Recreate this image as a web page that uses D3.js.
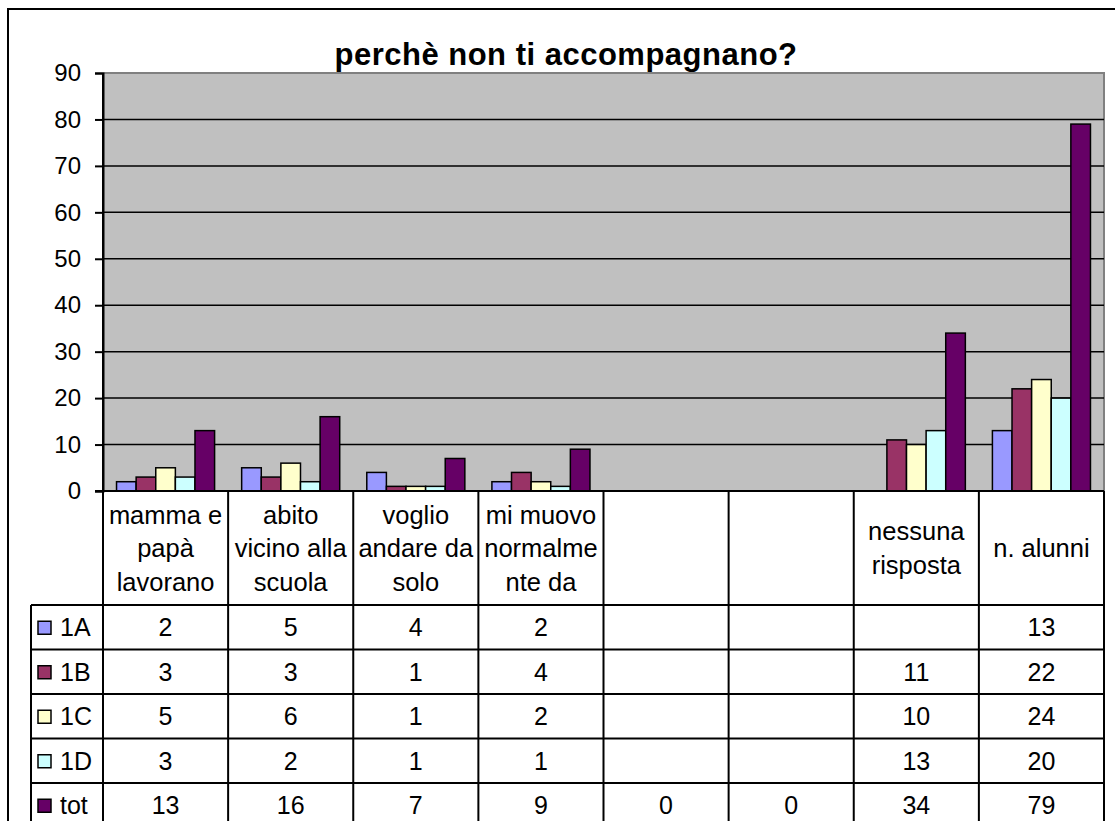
<!DOCTYPE html>
<html>
<head>
<meta charset="utf-8">
<script src="https://cdn.jsdelivr.net/npm/d3@7"></script>
<style>
body { margin: 0; background: #fff; }
text { font-family: 'Liberation Sans', Arial, sans-serif; fill: #000; }
</style>
</head>
<body>
<div id="chart"></div>
<script>
const title = 'perchè non ti accompagnano?'
const categories = [
	['mamma e', 'papà', 'lavorano'],
	['abito', 'vicino alla', 'scuola'],
	['voglio', 'andare da', 'solo'],
	['mi muovo', 'normalme', 'nte da'],
	[],
	[],
	['nessuna', 'risposta'],
	['n. alunni']
]
const seriesNames = ['1A', '1B', '1C', '1D', 'tot']
const colors = ['#9999ff', '#993366', '#ffffcc', '#ccffff', '#660066']
const v1A = [2, 5, 4, 2, null, null, null, 13]
const v1B = [3, 3, 1, 4, null, null, 11, 22]
const v1C = [5, 6, 1, 2, null, null, 10, 24]
const v1D = [3, 2, 1, 1, null, null, 13, 20]
const vTot = [13, 16, 7, 9, 0, 0, 34, 79]
const yTicks = [0, 10, 20, 30, 40, 50, 60, 70, 80, 90]

const series = [v1A, v1B, v1C, v1D, vTot]

const W = 1115, H = 821
const plot = { left: 103, right: 1104, top: 73, bottom: 491 }
const tableTop = 605, rowH = 44.5, legendLeft = 31

const svg = d3.select('#chart')
	.append('svg')
	.attr('width', W)
	.attr('height', H)

// outer frame (runs off the right and bottom edges)
svg.append('rect')
	.attr('x', 8).attr('y', 9)
	.attr('width', W + 20).attr('height', H + 20)
	.attr('fill', 'white')
	.attr('stroke', 'black')
	.attr('stroke-width', 2)

const idx = d3.range(categories.length)

const x = d3.scaleBand()
	.domain(idx)
	.range([plot.left, plot.right])

const x1 = d3.scaleBand()
	.domain(seriesNames)
	.range([0, x.bandwidth()])
	.paddingOuter(0.69)

const y = d3.scaleLinear()
	.domain([0, 90])
	.range([plot.bottom, plot.top])

// plot background
svg.append('rect')
	.attr('x', plot.left).attr('y', plot.top)
	.attr('width', plot.right - plot.left)
	.attr('height', plot.bottom - plot.top)
	.attr('fill', '#c0c0c0')

svg.append('path')
	.attr('d', `M${plot.left},${plot.top}H${plot.right}V${plot.bottom}`)
	.attr('fill', 'none')
	.attr('stroke', '#808080')
	.attr('stroke-width', 2)

// gridlines
svg.append('g')
	.selectAll('line')
	.data(yTicks.filter(d => d > 0 && d < 90))
	.join('line')
	.attr('x1', plot.left).attr('x2', plot.right)
	.attr('y1', d => y(d)).attr('y2', d => y(d))
	.attr('stroke', 'black')
	.attr('stroke-width', 1.5)

// y axis
const yAxis = d3.axisLeft(y)
	.tickValues(yTicks)
	.tickSize(8)
	.tickPadding(14)

svg.append('g')
	.attr('transform', `translate(${plot.left},0)`)
	.call(yAxis)
	.call(g => g.select('.domain').attr('stroke-width', 2))
	.call(g => g.selectAll('.tick line').attr('stroke-width', 2))
	.call(g => g.selectAll('.tick text')
		.attr('font-size', 24)
		.attr('font-family', "'Liberation Sans', Arial, sans-serif"))

// bars
const barData = []
series.forEach((vals, s) => vals.forEach((v, i) => {
	if (v != null && v > 0) barData.push({ s, i, v })
}))

svg.append('g')
	.selectAll('rect')
	.data(barData)
	.join('rect')
	.attr('x', d => x(d.i) + x1(seriesNames[d.s]))
	.attr('width', x1.bandwidth())
	.attr('y', d => y(d.v))
	.attr('height', d => y(0) - y(d.v))
	.attr('fill', d => colors[d.s])
	.attr('stroke', 'black')
	.attr('stroke-width', 1.5)

// data table
const tableBottom = tableTop + rowH * series.length
const grid = svg.append('g')
	.attr('stroke', 'black')
	.attr('stroke-width', 2)

grid.append('line')
	.attr('x1', plot.left - 8).attr('x2', plot.right)
	.attr('y1', plot.bottom).attr('y2', plot.bottom)

grid.selectAll('.vline')
	.data(idx.concat([categories.length]))
	.join('line')
	.attr('class', 'vline')
	.attr('x1', d => d < categories.length ? x(d) : plot.right)
	.attr('x2', d => d < categories.length ? x(d) : plot.right)
	.attr('y1', d => d === 0 ? plot.top : plot.bottom)
	.attr('y2', tableBottom + 10)

grid.append('line')
	.attr('x1', legendLeft).attr('x2', legendLeft)
	.attr('y1', tableTop).attr('y2', tableBottom + 10)

grid.selectAll('.hline')
	.data(d3.range(series.length))
	.join('line')
	.attr('class', 'hline')
	.attr('x1', legendLeft).attr('x2', plot.right)
	.attr('y1', d => tableTop + d * rowH)
	.attr('y2', d => tableTop + d * rowH)

// category labels
const catMid = (plot.bottom + tableTop) / 2
svg.append('g')
	.selectAll('text')
	.data(idx)
	.join('text')
	.attr('font-size', 25.5)
	.attr('text-anchor', 'middle')
	.each(function(i) {
		const lines = categories[i]
		d3.select(this).selectAll('tspan')
			.data(lines)
			.join('tspan')
			.attr('x', x(i) + x.bandwidth() / 2)
			.attr('y', (d, k) => catMid + (k - (lines.length - 1) / 2) * 33.5 + 9)
			.text(d => d)
	})

// legend keys + values
const rows = svg.append('g')
	.selectAll('g')
	.data(series)
	.join('g')
	.attr('transform', (d, s) => `translate(0,${tableTop + s * rowH + rowH / 2})`)

rows.append('rect')
	.attr('x', 38).attr('y', -6)
	.attr('width', 13).attr('height', 13)
	.attr('fill', (d, s) => colors[s])
	.attr('stroke', 'black')
	.attr('stroke-width', 1.5)

rows.append('text')
	.attr('x', 60).attr('y', 9)
	.attr('font-size', 25)
	.text((d, s) => seriesNames[s])

rows.selectAll('.val')
	.data(d => d.map((v, i) => ({ v, i })).filter(e => e.v != null))
	.join('text')
	.attr('class', 'val')
	.attr('x', d => x(d.i) + x.bandwidth() / 2)
	.attr('y', 9)
	.attr('text-anchor', 'middle')
	.attr('font-size', 25)
	.text(d => d.v)

// title
svg.append('text')
	.attr('x', 566)
	.attr('y', 65)
	.attr('text-anchor', 'middle')
	.attr('font-size', 31)
	.attr('font-weight', 'bold')
	.attr('letter-spacing', 0.5)
	.text(title)
</script>
</body>
</html>
